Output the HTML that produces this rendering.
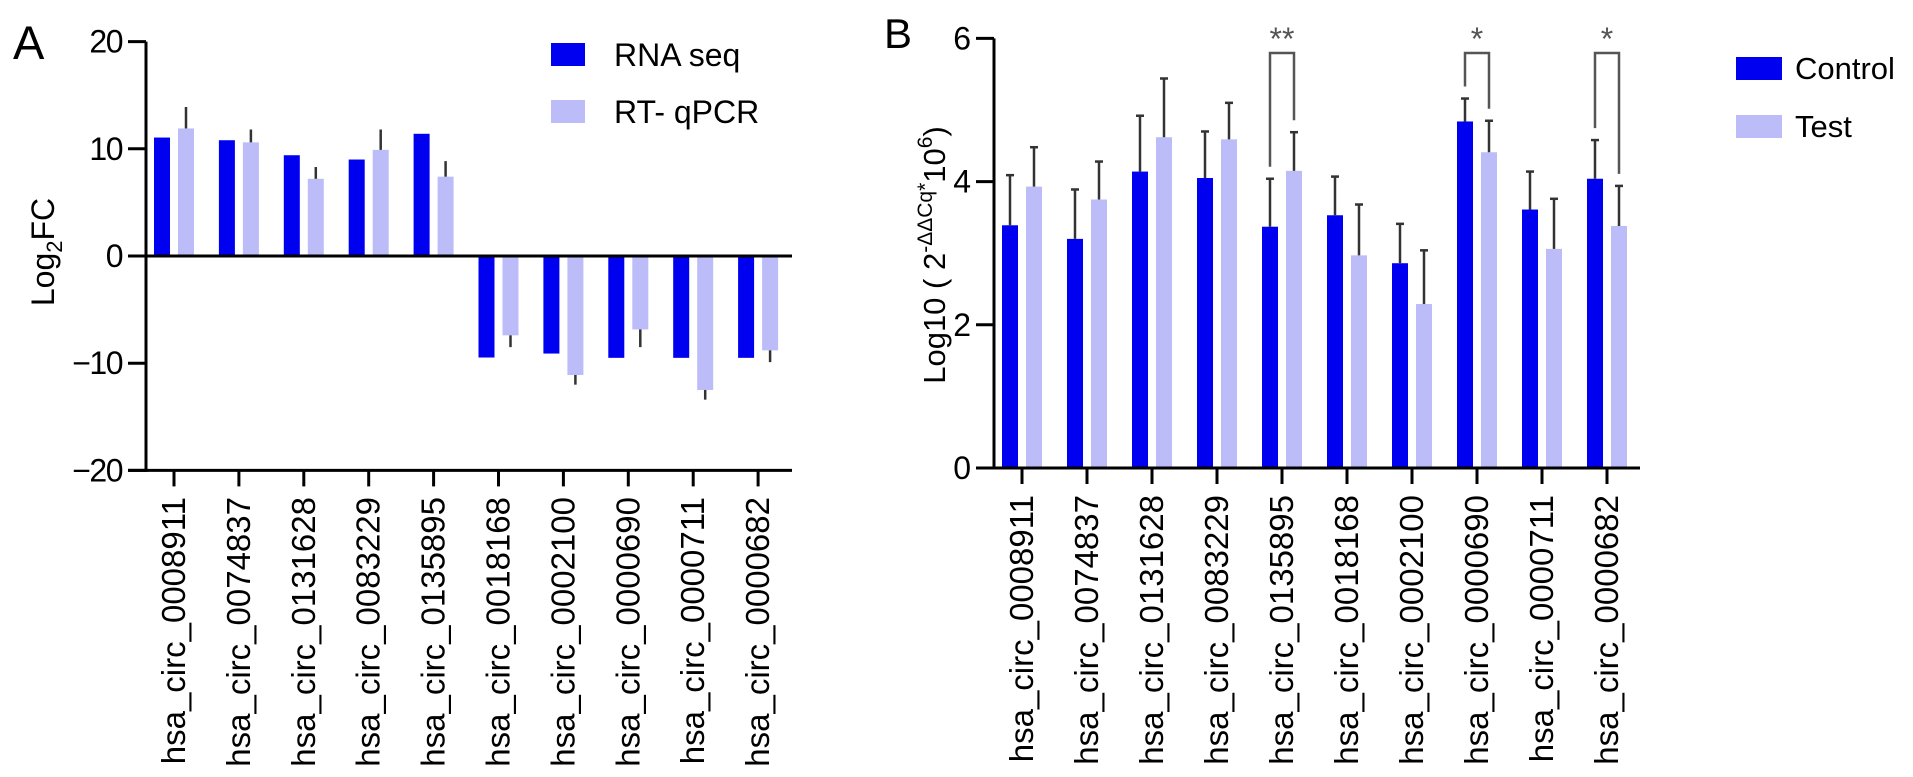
<!DOCTYPE html>
<html><head><meta charset="utf-8"><style>
html,body{margin:0;padding:0;background:#fff;}
svg{display:block;font-family:"Liberation Sans",Arial,sans-serif;}
</style></head><body>
<svg id="fig" width="1913" height="777" viewBox="0 0 1913 777" xmlns="http://www.w3.org/2000/svg">
<g id="pa"></g>
<g id="pb"></g>
</svg>
<script>
const categories = ["hsa_circ_0008911","hsa_circ_0074837","hsa_circ_0131628","hsa_circ_0083229","hsa_circ_0135895","hsa_circ_0018168","hsa_circ_0002100","hsa_circ_0000690","hsa_circ_0000711","hsa_circ_0000682"];
const rnaSeq = [11.05,10.8,9.4,9.0,11.4,-9.47,-9.1,-9.5,-9.5,-9.5];
const rtqpcr = [11.9,10.6,7.2,9.9,7.4,-7.4,-11.1,-6.85,-12.5,-8.8];
const rtqpcrErr = [2.0,1.2,1.1,1.9,1.45,1.1,0.9,1.65,0.9,1.1];
const ticksA = [20,10,0,-10,-20];
const control = [3.39,3.2,4.14,4.05,3.37,3.53,2.86,4.84,3.61,4.04];
const controlErr = [0.7,0.69,0.78,0.65,0.67,0.54,0.55,0.32,0.53,0.54];
const test = [3.93,3.75,4.62,4.59,4.15,2.97,2.29,4.41,3.06,3.38];
const testErr = [0.55,0.53,0.82,0.51,0.54,0.71,0.75,0.44,0.7,0.56];
const ticksB = [0,2,4,6];
const sigGroups = [4,7,9];
const sigLabels = ["**","*","*"];

const NS="http://www.w3.org/2000/svg";
function el(parent,tag,attrs,text){const e=document.createElementNS(NS,tag);for(const k in attrs)e.setAttribute(k,attrs[k]);if(text!==undefined)e.textContent=text;parent.appendChild(e);return e;}
const BLUE="#0000f0", LIGHT="#bcbcf8";
const LF=33;

// Panel A
const pa=document.getElementById('pa');
const yA=v=>256-(v)*10.72;
const xA=i=>174+i*64.9;
let t;
t=el(pa,'text',{x:13,y:59,'font-size':47});t.textContent='A';


ticksA.forEach(v=>{
  const l=el(pa,'line',{x1:128,x2:146,y1:yA(v),y2:yA(v),stroke:'#000','stroke-width':3});
  
  
  const tt=el(pa,'text',{x:122,y:yA(v)+11,'font-size':32,'text-anchor':'end','letter-spacing':'-1.5'},v<0?'\u2212'+(-v):String(v));
  
  
});
t=el(pa,'text',{transform:'translate(54,252) rotate(-90)','font-size':32,'text-anchor':'middle'});


t.innerHTML='Log<tspan font-size="22" dy="8">2</tspan><tspan dy="-8">FC</tspan>';
categories.forEach((c,i)=>{
  const cx=xA(i);
  const b=el(pa,'rect',{x:cx-20,y:Math.min(yA(rnaSeq[i]),yA(0)),width:16,height:Math.abs(yA(rnaSeq[i])-yA(0)),fill:BLUE});
  
  
  const b2=el(pa,'rect',{x:cx+4,y:Math.min(yA(rtqpcr[i]),yA(0)),width:16,height:Math.abs(yA(rtqpcr[i])-yA(0)),fill:LIGHT});
  
  
  const s=rtqpcr[i]>=0?1:-1;
  const e=el(pa,'line',{x1:cx+12,x2:cx+12,y1:yA(rtqpcr[i]),y2:yA(rtqpcr[i]+s*rtqpcrErr[i]),stroke:'#333','stroke-width':2.5});
  
  
  const tk=el(pa,'line',{x1:cx,x2:cx,y1:yA(-20),y2:yA(-20)+16,stroke:'#000','stroke-width':3});
  
  
  const lb=el(pa,'text',{transform:`translate(${cx+11},497) rotate(-90)`,'font-size':LF,'text-anchor':'end'},c);
  
  
});
let ax=el(pa,'line',{x1:146,x2:146,y1:yA(20),y2:yA(-20)+1.5,stroke:'#000','stroke-width':3});


ax=el(pa,'line',{x1:128,x2:792,y1:yA(-20),y2:yA(-20),stroke:'#000','stroke-width':3});


ax=el(pa,'line',{x1:146,x2:792,y1:yA(0),y2:yA(0),stroke:'#000','stroke-width':3});


[[BLUE,'RNA seq',43],[LIGHT,'RT- qPCR',100]].forEach(([col,txt,y])=>{
  const g=el(pa,'g',{});
  
  
  el(g,'rect',{x:551,y:y,width:34,height:23,fill:col});
  el(g,'text',{x:614,y:y+23,'font-size':32},txt);
});

// Panel B
const pb=document.getElementById('pb');
const yB=v=>468-v*71.6;
const xB=i=>1022+i*65;
t=el(pb,'text',{x:884,y:48,'font-size':42},'B');


ticksB.forEach(v=>{
  const l=el(pb,'line',{x1:976,x2:994,y1:yB(v),y2:yB(v),stroke:'#000','stroke-width':3});
  
  
  const tt=el(pb,'text',{x:971,y:yB(v)+11,'font-size':32,'text-anchor':'end'},String(v));
  
  
});
t=el(pb,'text',{transform:'translate(945,255) rotate(-90)','font-size':31,'text-anchor':'middle'});


t.innerHTML='Log10 ( 2<tspan font-size="21" dy="-13">-ΔΔCq*</tspan><tspan dy="13">10</tspan><tspan font-size="21" dy="-13">6</tspan><tspan dy="13">)</tspan>';
function errBar(g,x,v,e){
  el(g,'line',{x1:x,x2:x,y1:yB(v),y2:yB(v+e),stroke:'#333','stroke-width':2.5});
  el(g,'line',{x1:x-4,x2:x+4,y1:yB(v+e),y2:yB(v+e),stroke:'#333','stroke-width':2.5});
}
categories.forEach((c,i)=>{
  const cx=xB(i);
  const b=el(pb,'rect',{x:cx-20,y:yB(control[i]),width:16,height:yB(0)-yB(control[i]),fill:BLUE});
  
  
  const b2=el(pb,'rect',{x:cx+4,y:yB(test[i]),width:16,height:yB(0)-yB(test[i]),fill:LIGHT});
  
  
  const g1=el(pb,'g',{});
  
  
  errBar(g1,cx-12,control[i],controlErr[i]);
  const g2=el(pb,'g',{});
  
  
  errBar(g2,cx+12,test[i],testErr[i]);
  const tk=el(pb,'line',{x1:cx,x2:cx,y1:468,y2:484,stroke:'#000','stroke-width':3});
  
  
  const lb=el(pb,'text',{transform:`translate(${cx+11},495) rotate(-90)`,'font-size':LF,'text-anchor':'end'},c);
  
  
});
sigGroups.forEach((gi,k)=>{
  const cx=xB(gi);
  const g=el(pb,'g',{});
  
  
  const l=cx-12, r=cx+12;
  const lb=yB(control[gi]+controlErr[gi])-12, rb=yB(test[gi]+testErr[gi])-12;
  el(g,'polyline',{points:`${l},${lb} ${l},53 ${r},53 ${r},${rb}`,fill:'none',stroke:'#555','stroke-width':2.5});
  el(g,'text',{x:cx,y:50,'font-size':32,'text-anchor':'middle',fill:'#555'},sigLabels[k]);
});
ax=el(pb,'line',{x1:994,x2:994,y1:yB(6),y2:469.5,stroke:'#000','stroke-width':3});


ax=el(pb,'line',{x1:976,x2:1640,y1:468,y2:468,stroke:'#000','stroke-width':3});


[[BLUE,'Control',57],[LIGHT,'Test',115]].forEach(([col,txt,y])=>{
  const g=el(pb,'g',{});
  
  
  el(g,'rect',{x:1736,y:y,width:46,height:23,fill:col});
  el(g,'text',{x:1795,y:y+22,'font-size':31},txt);
});
</script>
</body></html>
